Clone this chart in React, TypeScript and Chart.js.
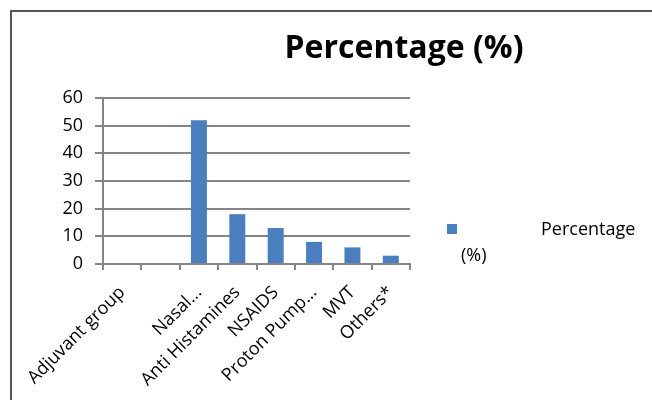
import React, { useEffect, useRef } from "react";
import { Chart, registerables } from "chart.js";

Chart.register(...registerables);

const categories = ["Adjuvant group", "", "Nasal...", "Anti Histamines", "NSAIDS", "Proton Pump...", "MVT", "Others*"];
const percentageValues = [null, null, 52, 18, 13, 8, 6, 3];
const seriesLabel = "Percentage (%)";
const chartTitle = "Percentage (%)";
const yTicks = { min: 0, max: 60, step: 10 };

const FONT = "'Open Sans', 'Liberation Sans', sans-serif";
const BAR_COLOR = "#4a7ebf";
const GRID_COLOR = "#858585";

const framePlugin = {
  id: "frameAndExtras",
  afterDraw(chart: any) {
    const ctx = chart.ctx;
    ctx.save();
    // frame (top and left edges)
    ctx.strokeStyle = "#555555";
    ctx.lineWidth = 2;
    ctx.beginPath();
    ctx.moveTo(11, 400);
    ctx.lineTo(11, 11);
    ctx.lineTo(652, 11);
    ctx.stroke();
    // title
    ctx.fillStyle = "#000";
    ctx.font = `bold 32px ${FONT}`;
    ctx.textAlign = "center";
    ctx.textBaseline = "middle";
    ctx.fillText(chartTitle, 404, 49);
    // legend
    const label = chart.data.datasets[0].label as string;
    const parts = label.split(" ");
    ctx.fillStyle = BAR_COLOR;
    ctx.fillRect(447, 224, 10, 10);
    ctx.fillStyle = "#000";
    ctx.font = `18px ${FONT}`;
    ctx.textAlign = "left";
    ctx.fillText(parts[0], 541, 230);
    ctx.fillText(parts.slice(1).join(" "), 461, 256);
    ctx.restore();
  },
};

export default function App() {
  const ref = useRef<HTMLCanvasElement>(null);
  useEffect(() => {
    document.body.style.margin = "0";
    const chart = new Chart(ref.current!, {
      type: "bar",
      data: {
        labels: categories,
        datasets: [
          {
            label: seriesLabel,
            data: percentageValues as any,
            backgroundColor: BAR_COLOR,
            categoryPercentage: 0.8,
            barPercentage: 0.52,
          },
        ],
      },
      options: {
        animation: false,
        responsive: false,
        layout: { padding: { left: 0, right: 242, top: 98, bottom: 0 } },
        plugins: {
          legend: { display: false },
          title: { display: false },
          tooltip: { enabled: false },
        },
        scales: {
          x: {
            grid: {
              drawOnChartArea: false,
              drawTicks: true,
              tickLength: 6,
              color: GRID_COLOR,
              lineWidth: 2,
              offset: true,
            },
            border: { color: GRID_COLOR, width: 2 },
            ticks: {
              color: "#000",
              font: { family: FONT, size: 18 },
              minRotation: 45,
              maxRotation: 45,
              autoSkip: false,
              padding: 12,
            },
            afterFit: (s: any) => {
              s.height = 136;
            },
          },
          y: {
            min: yTicks.min,
            max: yTicks.max,
            ticks: {
              stepSize: yTicks.step,
              color: "#000",
              font: { family: FONT, size: 18 },
              padding: 12,
            },
            grid: { color: GRID_COLOR, lineWidth: 2, tickLength: 8 },
            border: { color: GRID_COLOR, width: 2 },
            afterFit: (s: any) => {
              s.width = 103;
            },
          },
        },
      },
      plugins: [framePlugin],
    });
    return () => chart.destroy();
  }, []);
  return <canvas ref={ref} width={652} height={400} style={{ display: "block" }} />;
}
